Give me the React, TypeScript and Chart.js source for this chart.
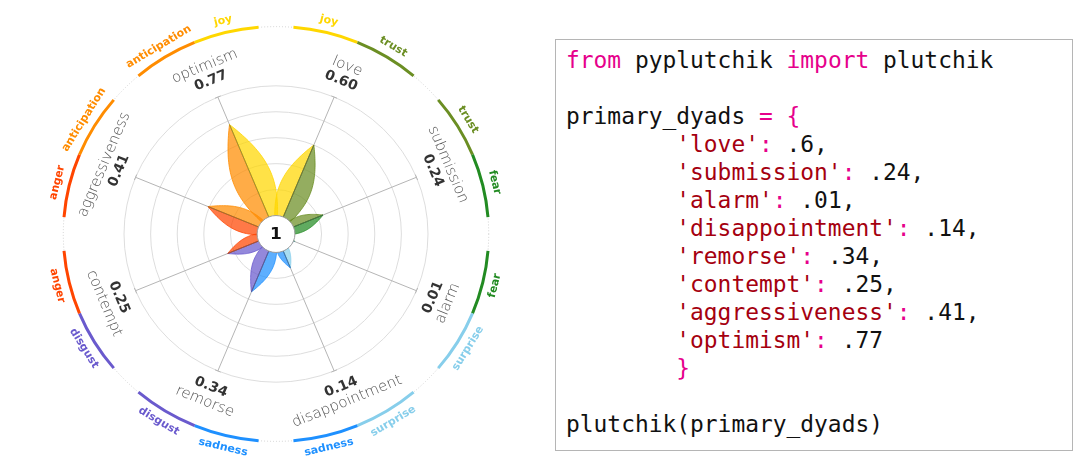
import React, { useEffect, useRef } from "react";
import { Chart, registerables } from "chart.js";

Chart.register(...registerables);

// ---------- data ----------
const dyadLabels = [
  "love",
  "submission",
  "alarm",
  "disappointment",
  "remorse",
  "contempt",
  "aggressiveness",
  "optimism",
];
const dyadValues = [0.6, 0.24, 0.01, 0.14, 0.34, 0.25, 0.41, 0.77];
const dyadPrimaries: [string, string][] = [
  ["joy", "trust"],
  ["trust", "fear"],
  ["fear", "surprise"],
  ["surprise", "sadness"],
  ["sadness", "disgust"],
  ["disgust", "anger"],
  ["anger", "anticipation"],
  ["anticipation", "joy"],
];
const gridTicks = [0.2, 0.4, 0.6, 0.8, 1.0];
const centerLabel = "1";

const primaryColors: Record<string, string> = {
  joy: "#FFD700",
  trust: "#6B8E23",
  fear: "#228B22",
  surprise: "#87CEEB",
  sadness: "#1E90FF",
  disgust: "#6A5ACD",
  anger: "#FF4500",
  anticipation: "#FF8C00",
};

// ---------- style constants ----------
const SCALE_MIN = -0.1423;
const PETAL_WIDTH = 0.16;
const ARC_RADIUS = 212.7;
const ARC_GAP = 4.7;
const ARC_LABEL_RADIUS = 225;
const VALUE_RADIUS = 170;
const NAME_RADIUS = 186;
const Y_SQUASH = 0.975;

function rgba(hex: string, a: number) {
  const n = parseInt(hex.slice(1), 16);
  return `rgba(${(n >> 16) & 255},${(n >> 8) & 255},${n & 255},${a})`;
}

function rad(deg: number) {
  return (deg * Math.PI) / 180;
}

function drawRotatedText(
  ctx: CanvasRenderingContext2D,
  text: string,
  x: number,
  y: number,
  degClockwiseFromTop: number
) {
  const d = ((degClockwiseFromTop % 360) + 360) % 360;
  const rot = d > 90 && d < 270 ? d - 180 : d > 270 ? d - 360 : d;
  ctx.save();
  ctx.translate(x, y);
  ctx.rotate(rad(rot));
  ctx.fillText(text, 0, 0);
  ctx.restore();
}

// slight vertical squash of the whole polar figure (as in the reference)
const squashPlugin = {
  id: "squash",
  beforeDraw(chart: any) {
    const yc = chart.scales.r.yCenter;
    const ctx = chart.ctx;
    ctx.save();
    ctx.translate(0, yc);
    ctx.scale(1, Y_SQUASH);
    ctx.translate(0, -yc);
  },
  afterDraw(chart: any) {
    chart.ctx.restore();
  },
};

const flowerPlugin = {
  id: "flower",
  afterDatasetsDraw(chart: any) {
    const scale = chart.scales.r;
    const ctx: CanvasRenderingContext2D = chart.ctx;
    const xc = scale.xCenter;
    const yc = scale.yCenter;
    const R = scale.drawingArea;
    const values: number[] = chart.data.datasets[0].data;
    const n = values.length;

    ctx.save();

    // spoke end ticks
    ctx.strokeStyle = "#b4b4b4";
    ctx.lineWidth = 1;
    for (let i = 0; i < n; i++) {
      const p = scale.getPointPosition(i, R);
      const a = p.angle;
      const px = -Math.sin(a);
      const py = Math.cos(a);
      ctx.beginPath();
      ctx.moveTo(p.x - px * 3, p.y - py * 3);
      ctx.lineTo(p.x + px * 3, p.y + py * 3);
      ctx.stroke();
    }

    // petals
    for (let i = 0; i < n; i++) {
      const tip = scale.getPointPositionForValue(i, values[i]);
      const ang = tip.angle;
      const L = Math.hypot(tip.x - xc, tip.y - yc);
      const ux = Math.cos(ang);
      const uy = Math.sin(ang);
      const pair = dyadPrimaries[i];
      [-1, 1].forEach((side, k) => {
        const col = primaryColors[pair[k]];
        const nx = -uy * side;
        const ny = ux * side;
        ctx.beginPath();
        ctx.moveTo(xc, yc);
        const N = 48;
        for (let s = 1; s <= N; s++) {
          const t = s / N;
          const h = PETAL_WIDTH * L * Math.pow(Math.sin(Math.PI * t), 0.95);
          ctx.lineTo(xc + ux * L * t + nx * h, yc + uy * L * t + ny * h);
        }
        ctx.closePath();
        ctx.fillStyle = rgba(col, 0.72);
        ctx.fill();
        ctx.strokeStyle = col;
        ctx.lineWidth = 0.8;
        ctx.stroke();
      });
      // vein
      ctx.beginPath();
      ctx.moveTo(xc, yc);
      ctx.lineTo(tip.x, tip.y);
      ctx.strokeStyle = "rgba(90,90,90,0.75)";
      ctx.lineWidth = 0.8;
      ctx.stroke();
    }

    // center circle
    const r0 = scale.getDistanceFromCenterForValue(0);
    ctx.beginPath();
    ctx.arc(xc, yc, r0, 0, Math.PI * 2);
    ctx.fillStyle = "#ffffff";
    ctx.fill();
    ctx.strokeStyle = "#9a9a9a";
    ctx.lineWidth = 1;
    ctx.stroke();
    ctx.fillStyle = "#111111";
    ctx.font = "bold 17px 'DejaVu Sans'";
    ctx.textAlign = "center";
    ctx.textBaseline = "middle";
    ctx.fillText(centerLabel, xc, yc + 1);

    // dyad labels
    for (let i = 0; i < n; i++) {
      const deg = (scale.getIndexAngle(i) * 180) / Math.PI;
      const pv = scale.getPointPosition(i, VALUE_RADIUS);
      const pn = scale.getPointPosition(i, NAME_RADIUS);
      ctx.fillStyle = "#333333";
      ctx.font = "bold 14px 'DejaVu Sans'";
      drawRotatedText(ctx, values[i].toFixed(2), pv.x, pv.y, deg);
      ctx.fillStyle = "#555555";
      ctx.font = "200 15px 'DejaVu Sans'";
      drawRotatedText(ctx, chart.data.labels[i], pn.x, pn.y, deg);
    }

    // outer dotted ring
    ctx.beginPath();
    ctx.setLineDash([1, 2]);
    ctx.arc(xc, yc, ARC_RADIUS, 0, Math.PI * 2);
    ctx.strokeStyle = "#cfcfcf";
    ctx.lineWidth = 1;
    ctx.stroke();
    ctx.setLineDash([]);

    // primary emotion arcs and labels
    const sector = 360 / n;
    ctx.font = "bold 11px 'DejaVu Sans'";
    for (let i = 0; i < n; i++) {
      const c = (scale.getIndexAngle(i) * 180) / Math.PI;
      const spans = [
        [c - sector / 2 + ARC_GAP, c],
        [c, c + sector / 2 - ARC_GAP],
      ];
      spans.forEach(([a0, a1], k) => {
        const col = primaryColors[dyadPrimaries[i][k]];
        ctx.beginPath();
        ctx.arc(xc, yc, ARC_RADIUS, rad(a0 - 90), rad(a1 - 90));
        ctx.strokeStyle = col;
        ctx.lineWidth = 3;
        ctx.lineCap = "butt";
        ctx.stroke();
        const m = (a0 + a1) / 2;
        const lx = xc + ARC_LABEL_RADIUS * Math.sin(rad(m));
        const ly = yc - ARC_LABEL_RADIUS * Math.cos(rad(m));
        ctx.fillStyle = col;
        drawRotatedText(ctx, dyadPrimaries[i][k], lx, ly, m);
      });
    }

    ctx.restore();
  },
};

// ---------- code box text ----------
const K = "#E6008B";
const S = "#A5000F";
const N0 = "#111111";
const codeLines: [string, string][][] = [
  [["from", K], [" pyplutchik ", N0], ["import", K], [" plutchik", N0]],
  [],
  [["primary_dyads ", N0], ["=", K], [" ", N0], ["{", K]],
  ...dyadLabels.map((lab, i) => {
    const num = String(dyadValues[i]).replace(/^0/, "");
    const seg: [string, string][] = [
      ["        ", N0],
      [`'${lab}'`, S],
      [":", K],
      [` ${num}${i < dyadLabels.length - 1 ? "," : ""}`, N0],
    ];
    return seg;
  }),
  [["        ", N0], ["}", K]],
  [],
  [["plutchik(primary_dyads)", N0]],
];

export default function App() {
  const canvasRef = useRef<HTMLCanvasElement>(null);

  useEffect(() => {
    const chart = new Chart(canvasRef.current as HTMLCanvasElement, {
      type: "radar",
      data: {
        labels: dyadLabels,
        datasets: [
          {
            data: dyadValues,
            borderWidth: 0,
            pointRadius: 0,
            pointHoverRadius: 0,
            backgroundColor: "rgba(0,0,0,0)",
            borderColor: "rgba(0,0,0,0)",
            fill: false,
          },
        ],
      },
      options: {
        responsive: false,
        animation: false,
        events: [],
        layout: { padding: { left: 124, right: 123, top: 82, bottom: 88 } },
        plugins: { legend: { display: false }, tooltip: { enabled: false } },
        scales: {
          r: {
            min: SCALE_MIN,
            max: 1,
            startAngle: 22.5,
            afterBuildTicks: (s: any) => {
              s.ticks = gridTicks.map((v) => ({ value: v }));
            },
            ticks: { display: false },
            pointLabels: { display: false },
            grid: { circular: true, color: "#dcdcdc", lineWidth: 1 },
            angleLines: { display: true, color: "#b4b4b4", lineWidth: 1 },
          },
        },
      } as any,
      plugins: [squashPlugin, flowerPlugin],
    });
    return () => chart.destroy();
  }, []);

  return (
    <div
      style={{
        position: "absolute",
        left: 0,
        top: 0,
        width: 1092,
        height: 475,
        background: "#ffffff",
        overflow: "hidden",
      }}
    >
      <canvas
        ref={canvasRef}
        width={552}
        height={475}
        style={{ position: "absolute", left: 0, top: 0, width: 552, height: 475 }}
      />
      <div
        style={{
          position: "absolute",
          left: 555,
          top: 39,
          width: 518,
          height: 412,
          boxSizing: "border-box",
          border: "1.5px solid #b5b5b5",
        }}
      >
        <pre
          style={{
            margin: 0,
            position: "absolute",
            left: 10,
            top: 6,
            fontFamily: "'DejaVu Sans Mono', monospace",
            fontSize: "22.9px",
            lineHeight: "28px",
            color: N0,
          }}
        >
          {codeLines.map((line, i) => (
            <div key={i} style={{ height: 28 }}>
              {line.map((seg, j) => (
                <span key={j} style={{ color: seg[1] }}>
                  {seg[0]}
                </span>
              ))}
            </div>
          ))}
        </pre>
      </div>
    </div>
  );
}
